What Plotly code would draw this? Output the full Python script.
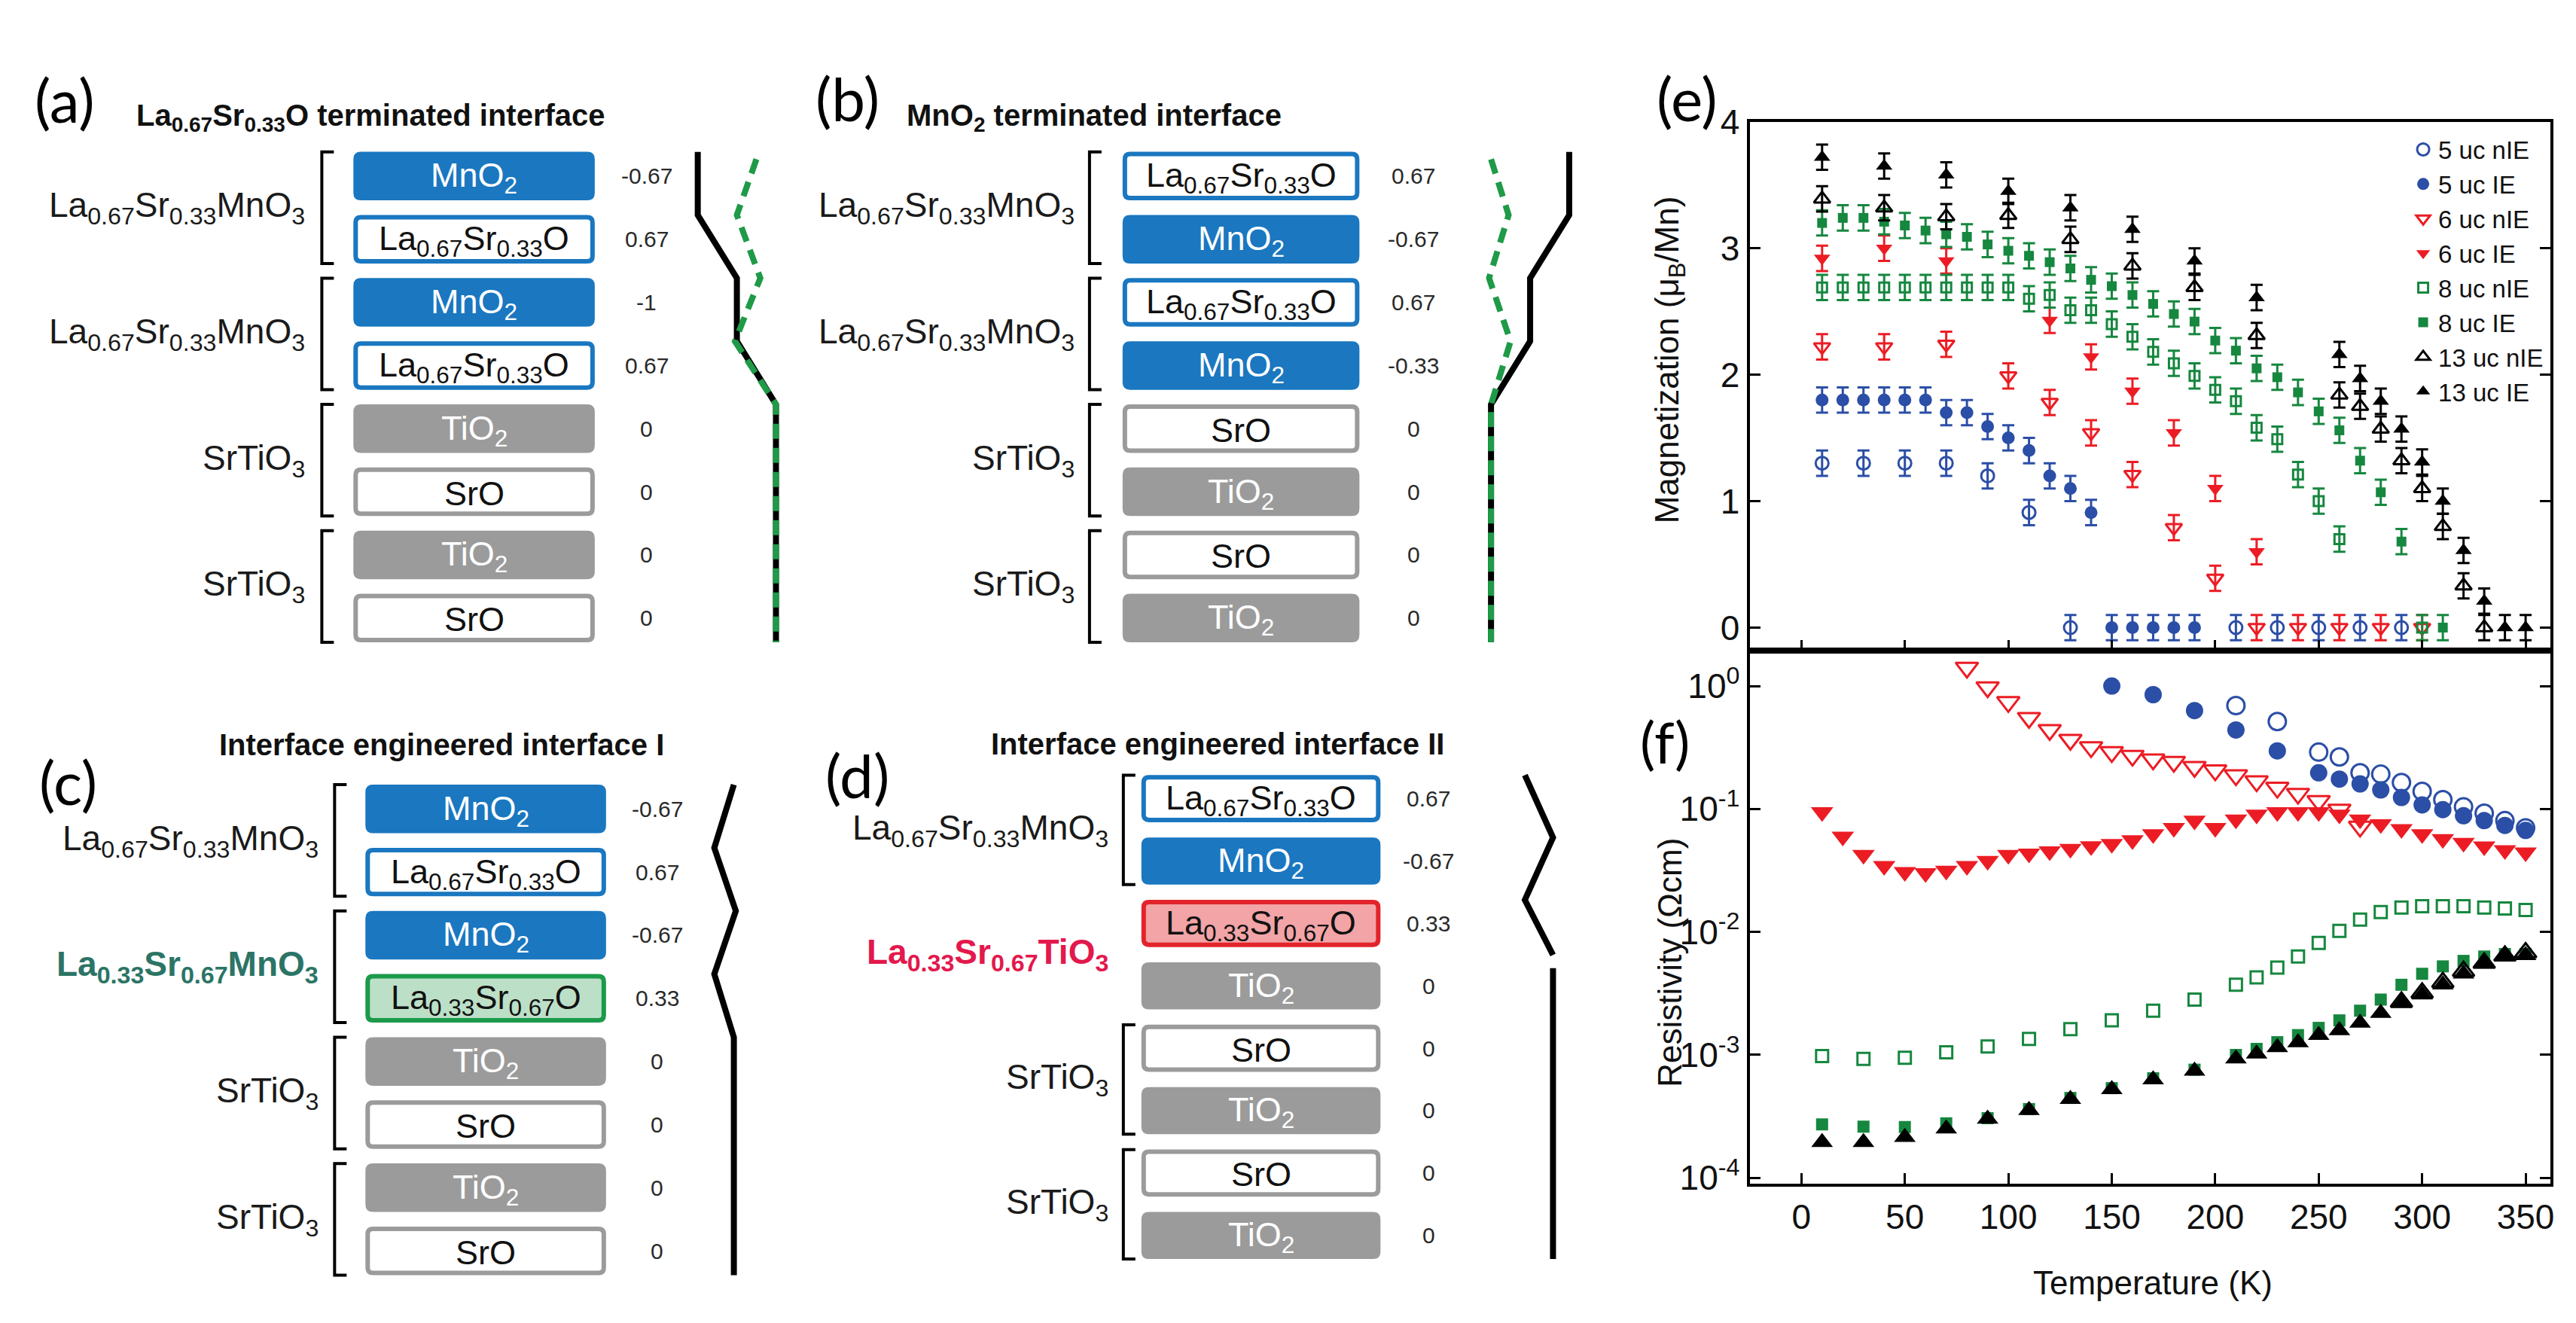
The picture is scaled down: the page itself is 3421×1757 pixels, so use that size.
import plotly.graph_objects as go

W, H = 3421, 1757

# ================= (e) magnetization (mu_B / Mn) =================
T_M_5NIE = [10, 30, 50, 70, 90, 110, 130, 210, 230, 250, 270, 290]
M_5NIE = [1.30, 1.30, 1.30, 1.30, 1.20, 0.91, 0.00, 0.00, 0.00, 0.00, 0.00, 0.00]
T_M_5IE = [10, 20, 30, 40, 50, 60, 70, 80, 90, 100, 110, 120, 130, 140, 150, 160, 170, 180, 190]
M_5IE = [1.80, 1.80, 1.80, 1.80, 1.80, 1.80, 1.70, 1.70, 1.59, 1.50, 1.40, 1.20, 1.10, 0.91,
         0.00, 0.00, 0.00, 0.00, 0.00]
T_M_6NIE = [10, 40, 70, 100, 120, 140, 160, 180, 200, 220, 240, 260, 280, 300]
M_6NIE = [2.22, 2.22, 2.24, 1.99, 1.78, 1.54, 1.21, 0.79, 0.39, 0.00, 0.00, 0.00, 0.00, 0.00]
T_M_6IE = [10, 40, 70, 120, 140, 160, 180, 200, 220]
M_6IE = [2.92, 3.00, 2.90, 2.43, 2.14, 1.87, 1.54, 1.10, 0.60]
T_M_8NIE = [10, 20, 30, 40, 50, 60, 70, 80, 90, 100, 110, 120, 130, 140, 150, 160, 170, 180,
            190, 200, 210, 220, 230, 240, 250, 260, 300]
M_8NIE = [2.69, 2.69, 2.69, 2.69, 2.69, 2.69, 2.69, 2.69, 2.69, 2.69, 2.60, 2.63, 2.51, 2.51,
          2.40, 2.30, 2.18, 2.09, 1.99, 1.88, 1.79, 1.58, 1.49, 1.21, 1.00, 0.70, 0.00]
T_M_8IE = [10, 20, 30, 40, 50, 60, 70, 80, 90, 100, 110, 120, 130, 140, 150, 160, 170, 180,
           190, 200, 210, 220, 230, 240, 250, 260, 270, 280, 290, 310]
M_8IE = [3.20, 3.24, 3.24, 3.21, 3.18, 3.14, 3.11, 3.09, 3.03, 2.98, 2.94, 2.89, 2.84, 2.75,
         2.70, 2.63, 2.56, 2.48, 2.42, 2.27, 2.19, 2.05, 1.98, 1.86, 1.71, 1.56, 1.32, 1.07,
         0.68, 0.00]
T_M_13NIE = [10, 40, 70, 100, 130, 160, 190, 220, 260, 270, 280, 290, 300, 310, 320, 330]
M_13NIE = [3.39, 3.32, 3.25, 3.26, 3.07, 2.86, 2.69, 2.31, 1.84, 1.75, 1.57, 1.32, 1.10, 0.80,
           0.33, 0.00]
T_M_13IE = [10, 40, 70, 100, 130, 160, 190, 220, 260, 270, 280, 290, 300, 310, 320, 330, 340, 350]
M_13IE = [3.72, 3.65, 3.58, 3.45, 3.32, 3.15, 2.90, 2.61, 2.16, 1.97, 1.79, 1.57, 1.31, 1.00,
          0.61, 0.21, 0.00, 0.00]
MAG_ERR = 0.1

# ================= (f) resistivity (Ohm cm) =================
T_R_5NIE = [210, 230, 250, 260, 270, 280, 290, 300, 310, 320, 330, 340, 350]
R_5NIE = [0.693, 0.514, 0.290, 0.265, 0.197, 0.192, 0.164, 0.139, 0.119, 0.104, 0.0923,
          0.0804, 0.0702]
T_R_5IE = [150, 170, 190, 210, 230, 250, 260, 270, 280, 290, 300, 310, 320, 330, 340, 350]
R_5IE = [1.0, 0.851, 0.631, 0.439, 0.297, 0.197, 0.175, 0.160, 0.143, 0.124, 0.108, 0.0989,
         0.0881, 0.0804, 0.0735, 0.0670]
T_R_6NIE = [80, 90, 100, 110, 120, 130, 140, 150, 160, 170, 180, 190, 200, 210, 220, 230,
            240, 250, 260, 270]
R_6NIE = [1.41, 0.977, 0.741, 0.550, 0.439, 0.365, 0.318, 0.290, 0.271, 0.253, 0.242, 0.220,
          0.206, 0.188, 0.168, 0.149, 0.133, 0.116, 0.0989, 0.0718]
T_R_6IE = [10, 20, 30, 40, 50, 60, 70, 80, 90, 100, 110, 120, 130, 140, 150, 160, 170, 180,
           190, 200, 210, 220, 230, 240, 250, 260, 270, 280, 290, 300, 310, 320, 330, 340, 350]
R_6IE = [0.0944, 0.0597, 0.0424, 0.0344, 0.0308, 0.0301, 0.0315, 0.0344, 0.0378, 0.0424,
         0.0434, 0.0454, 0.0475, 0.0498, 0.0520, 0.0557, 0.0625, 0.0701, 0.0804, 0.0701,
         0.0822, 0.0902, 0.0944, 0.0944, 0.0944, 0.0902, 0.0822, 0.0752, 0.0686, 0.0625,
         0.0570, 0.0532, 0.0497, 0.0463, 0.0443]
T_R_8NIE = [10, 30, 50, 70, 90, 110, 130, 150, 170, 190, 210, 220, 230, 240, 250, 260, 270,
            280, 290, 300, 310, 320, 330, 340, 350]
R_8NIE = [9.8e-4, 9.3e-4, 9.5e-4, 1.05e-3, 1.17e-3, 1.35e-3, 1.62e-3, 1.91e-3, 2.29e-3,
          2.82e-3, 3.72e-3, 4.27e-3, 5.13e-3, 6.31e-3, 8.13e-3, 1.02e-2, 1.26e-2, 1.45e-2,
          1.58e-2, 1.62e-2, 1.62e-2, 1.62e-2, 1.58e-2, 1.55e-2, 1.51e-2]
T_R_8IE = [10, 30, 50, 70, 90, 110, 130, 150, 170, 190, 210, 220, 230, 240, 250, 260, 270,
           280, 290, 300, 310, 320, 330, 340, 350]
R_8IE = [2.72e-4, 2.61e-4, 2.59e-4, 2.78e-4, 3.06e-4, 3.63e-4, 4.47e-4, 5.37e-4, 6.46e-4,
         7.59e-4, 1.00e-3, 1.12e-3, 1.27e-3, 1.45e-3, 1.66e-3, 1.91e-3, 2.29e-3, 2.82e-3,
         3.72e-3, 4.57e-3, 5.25e-3, 5.82e-3, 6.31e-3, 6.61e-3, 6.61e-3]
T_R_13NIE = [290, 300, 310, 320, 330, 340, 350]
R_13NIE = [2.7e-3, 3.2e-3, 3.9e-3, 4.8e-3, 5.6e-3, 6.4e-3, 6.8e-3]
T_R_13IE = [10, 30, 50, 70, 90, 110, 130, 150, 170, 190, 210, 220, 230, 240, 250, 260, 270,
            280, 290, 300, 310, 320, 330, 340, 350]
R_13IE = [1.95e-4, 1.95e-4, 2.14e-4, 2.51e-4, 3.02e-4, 3.55e-4, 4.37e-4, 5.25e-4, 6.31e-4,
          7.41e-4, 9.33e-4, 1.02e-3, 1.15e-3, 1.26e-3, 1.45e-3, 1.58e-3, 1.82e-3, 2.19e-3,
          2.63e-3, 3.09e-3, 3.72e-3, 4.57e-3, 5.50e-3, 6.31e-3, 6.46e-3]

SERIES_NAMES = ["5 uc nIE", "5 uc IE", "6 uc nIE", "6 uc IE", "8 uc nIE", "8 uc IE",
                "13 uc nIE", "13 uc IE"]
T_TICKS = [0, 50, 100, 150, 200, 250, 300, 350]
M_TICKS = [0, 1, 2, 3, 4]
R_TICKS = [1, 0.1, 0.01, 0.001, 0.0001]
R_TICKTEXT = ["10<sup>0</sup>", "10<sup>-1</sup>", "10<sup>-2</sup>", "10<sup>-3</sup>",
              "10<sup>-4</sup>"]

# ================= schematic (a)-(d) data =================
LAYERS_A = ["MnO2", "LSO", "MnO2", "LSO", "TiO2", "SrO", "TiO2", "SrO"]
CHARGE_A = ["-0.67", "0.67", "-1", "0.67", "0", "0", "0", "0"]
GROUPS_A = ["LSMO", "LSMO", "STO", "STO"]
LAYERS_B = ["LSO", "MnO2", "LSO", "MnO2", "SrO", "TiO2", "SrO", "TiO2"]
CHARGE_B = ["0.67", "-0.67", "0.67", "-0.33", "0", "0", "0", "0"]
GROUPS_B = ["LSMO", "LSMO", "STO", "STO"]
LAYERS_C = ["MnO2", "LSO", "MnO2", "LSOg", "TiO2", "SrO", "TiO2", "SrO"]
CHARGE_C = ["-0.67", "0.67", "-0.67", "0.33", "0", "0", "0", "0"]
GROUPS_C = ["LSMO", "LSMO2", "STO", "STO"]
LAYERS_D = ["LSO", "MnO2", "LSOr", "TiO2", "SrO", "TiO2", "SrO", "TiO2"]
CHARGE_D = ["0.67", "-0.67", "0.33", "0", "0", "0", "0", "0"]
GROUPS_D = ["LSMO", "LSTO", "STO", "STO"]
# electrostatic potential profiles (arb. units) at layer boundaries
POT_A_BLACK = [0, 0, 1, 1, 2, 2]
POT_A_GREEN = [1.5, 1.0, 1.6, 0.95, 2, 2]
POT_B_BLACK = [2, 2, 1, 1, 0, 0]
POT_B_GREEN = [0, 0.45, -0.05, 0.5, 0, 0]
POT_C_BLACK = [0.5, 0, 0.55, 0, 0.5, 0.5]
POT_D_BLACK_TOP = [0, 0.72, 0, 0.72]
POT_D_BLACK_BOT = [0.72, 0.72]

# ================= styles =================
FONT = "Liberation Sans, Arial, sans-serif"
TAGFONT = "Lato, Open Sans, sans-serif"
C_BLUE, C_RED, C_GREEN, C_BLACK = "#2b4ea6", "#ec1c24", "#16873f", "#000000"
SER_COLORS = [C_BLUE, C_BLUE, C_RED, C_RED, C_GREEN, C_GREEN, C_BLACK, C_BLACK]
SER_SYMBOLS = ["circle-open", "circle", "triangle-down-open", "triangle-down",
               "square-open", "square", "triangle-up-open", "triangle-up"]
SIZE_E = {"circle": 17, "triangle-down": 19, "square": 13, "triangle-up": 19}
SIZE_F = {"circle": 23, "triangle-down": 26, "square": 16, "triangle-up": 25}

BOX_BLUE, BOX_GRAY = "#1a77c0", "#9b9b9b"
LAYER_STYLE = {
    "MnO2": (BOX_BLUE, BOX_BLUE, "MnO<sub>2</sub>", "white"),
    "LSO": ("white", BOX_BLUE, "La<sub>0.67</sub>Sr<sub>0.33</sub>O", "#111"),
    "LSOg": ("#bcdfc7", "#1b9a4a", "La<sub>0.33</sub>Sr<sub>0.67</sub>O", "#111"),
    "LSOr": ("#f2a4a6", "#e3232b", "La<sub>0.33</sub>Sr<sub>0.67</sub>O", "#111"),
    "TiO2": (BOX_GRAY, BOX_GRAY, "TiO<sub>2</sub>", "white"),
    "SrO": ("white", BOX_GRAY, "SrO", "#111"),
}
GROUP_STYLE = {
    "LSMO": ("La<sub>0.67</sub>Sr<sub>0.33</sub>MnO<sub>3</sub>", "#1a1a1a", True),
    "LSMO2": ("<b>La<sub>0.33</sub>Sr<sub>0.67</sub>MnO<sub>3</sub></b>", "#2c7466", True),
    "LSTO": ("<b>La<sub>0.33</sub>Sr<sub>0.67</sub>TiO<sub>3</sub></b>", "#e3184c", False),
    "STO": ("SrTiO<sub>3</sub>", "#1a1a1a", True),
}

# panel geometry (pixels)
PANELS = [
    dict(tag="(a)", tag_xy=(78, 100), title="<b>La<sub>0.67</sub>Sr<sub>0.33</sub>O terminated interface</b>",
         title_xy=(171, 125), title_anchor="left", label_r=400, br_x=420, box=(462, 783), val_x=852,
         prof_x=920, y0=172, pitch=86, h=66, layers=LAYERS_A, charges=CHARGE_A, groups=GROUPS_A,
         black=[POT_A_BLACK], green=POT_A_GREEN),
    dict(tag="(b)", tag_xy=(1119, 98), title="<b>MnO<sub>2</sub> terminated interface</b>",
         title_xy=(1196, 125), title_anchor="left", label_r=1423, br_x=1441, box=(1485, 1800), val_x=1872,
         prof_x=1975, y0=172, pitch=86, h=66, layers=LAYERS_B, charges=CHARGE_B, groups=GROUPS_B,
         black=[POT_B_BLACK], green=POT_B_GREEN),
    dict(tag="(c)", tag_xy=(83, 1030), title="<b>Interface engineered interface I</b>",
         title_xy=(877, 980), title_anchor="right", label_r=418, br_x=437, box=(478, 798), val_x=866,
         prof_x=942, y0=1034, pitch=86, h=66, layers=LAYERS_C, charges=CHARGE_C, groups=GROUPS_C,
         black=[POT_C_BLACK], green=None),
    dict(tag="(d)", tag_xy=(1132, 1021), title="<b>Interface engineered interface II</b>",
         title_xy=(1915, 978), title_anchor="right", label_r=1468, br_x=1486, box=(1510, 1828), val_x=1892,
         prof_x=2020, y0=1021, pitch=85, h=64, layers=LAYERS_D, charges=CHARGE_D, groups=GROUPS_D,
         black=None, green=None),
]
POT_SCALE = 52  # px per potential unit

fig = go.Figure()

# ---------- (e) and (f) traces ----------
E_SETS = [(T_M_5NIE, M_5NIE), (T_M_5IE, M_5IE), (T_M_6NIE, M_6NIE), (T_M_6IE, M_6IE),
          (T_M_8NIE, M_8NIE), (T_M_8IE, M_8IE), (T_M_13NIE, M_13NIE), (T_M_13IE, M_13IE)]
F_SETS = [(T_R_5NIE, R_5NIE), (T_R_5IE, R_5IE), (T_R_6NIE, R_6NIE), (T_R_6IE, R_6IE),
          (T_R_8NIE, R_8NIE), (T_R_8IE, R_8IE), (T_R_13NIE, R_13NIE), (T_R_13IE, R_13IE)]

for name, col, sym, (te, me) in zip(SERIES_NAMES, SER_COLORS, SER_SYMBOLS, E_SETS):
    base = sym.replace("-open", "")
    fig.add_trace(go.Scatter(
        x=te, y=me, mode="markers", name=name, xaxis="x", yaxis="y",
        marker=dict(symbol=sym, size=SIZE_E[base], color=col,
                    line=dict(width=3 if "open" in sym else 0, color=col)),
        error_y=dict(type="constant", value=MAG_ERR, color=col, thickness=3, width=8),
        cliponaxis=False))

for name, col, sym, (tf, rf) in zip(SERIES_NAMES, SER_COLORS, SER_SYMBOLS, F_SETS):
    base = sym.replace("-open", "")
    fig.add_trace(go.Scatter(
        x=tf, y=rf, mode="markers", name=name, xaxis="x2", yaxis="y2", showlegend=False,
        marker=dict(symbol=sym, size=SIZE_F[base], color=col,
                    line=dict(width=3 if "open" in sym else 0, color=col))))

# ---------- schematic ----------
shapes, annotations = [], []


def rrect(x0, y0, x1, y1, r=7):
    return (f"M {x0 + r},{y0} L {x1 - r},{y0} Q {x1},{y0} {x1},{y0 + r} L {x1},{y1 - r} "
            f"Q {x1},{y1} {x1 - r},{y1} L {x0 + r},{y1} Q {x0},{y1} {x0},{y1 - r} "
            f"L {x0},{y0 + r} Q {x0},{y0} {x0 + r},{y0} Z")


def note(x, y, text, size, color="#111", family=FONT, xanchor="center", ref="x3", angle=0):
    if ref == "x3":
        return dict(xref="x3", yref="y3", x=x, y=y, text=text, showarrow=False, textangle=angle,
                    font=dict(family=family, size=size, color=color), xanchor=xanchor,
                    yanchor="middle")
    return dict(xref="paper", yref="paper", x=x / W, y=1 - y / H, text=text, showarrow=False,
                textangle=angle, font=dict(family=family, size=size, color=color),
                xanchor=xanchor, yanchor="middle")


for P in PANELS:
    bx0, bx1 = P["box"]
    tops = [P["y0"] + i * P["pitch"] for i in range(len(P["layers"]))]
    for i, lay in enumerate(P["layers"]):
        fill, line, txt, tc = LAYER_STYLE[lay]
        yt, yb = tops[i], tops[i] + P["h"]
        shapes.append(dict(type="path", xref="x3", yref="y3",
                           path=rrect(bx0 + 3, yt + 3, bx1 - 3, yb - 3),
                           fillcolor=fill, line=dict(color=line, width=6)))
        annotations.append(note((bx0 + bx1) / 2, (yt + yb) / 2 + 2, txt, 45, tc))
        annotations.append(note(P["val_x"], (yt + yb) / 2, P["charges"][i], 30, "#2a2a2a"))
    for g, key in enumerate(P["groups"]):
        txt, col, bracket = GROUP_STYLE[key]
        yt = tops[2 * g]
        yb = tops[2 * g + 1] + P["h"]
        annotations.append(note(P["label_r"], (yt + yb) / 2, txt, 46, col, xanchor="right"))
        if bracket:
            bxp = P["br_x"]
            shapes.append(dict(type="path", xref="x3", yref="y3",
                               path=f"M {bxp + 16},{yt} L {bxp},{yt} L {bxp},{yb} L {bxp + 16},{yb}",
                               line=dict(color="black", width=4)))
    annotations.append(note(P["tag_xy"][0], P["tag_xy"][1], P["tag"], 80, "black", TAGFONT))
    annotations.append(note(P["title_xy"][0], P["title_xy"][1], P["title"], 40, "#111",
                            xanchor=P["title_anchor"]))
    # potential profiles
    nodes_y = tops[:5] + [tops[-1] + P["h"]]
    if P["black"]:
        for pot in P["black"]:
            fig.add_trace(go.Scatter(x=[P["prof_x"] + POT_SCALE * v for v in pot], y=nodes_y,
                                     mode="lines", xaxis="x3", yaxis="y3", showlegend=False,
                                     hoverinfo="skip", line=dict(color="black", width=8)))
    if P["green"]:
        fig.add_trace(go.Scatter(x=[P["prof_x"] + POT_SCALE * v for v in P["green"]],
                                 y=[nodes_y[0] + 10] + nodes_y[1:],
                                 mode="lines", xaxis="x3", yaxis="y3", showlegend=False,
                                 hoverinfo="skip",
                                 line=dict(color="#1f9a48", width=8, dash="20px,12px")))

# panel (d) profile: zig-zag over the top layers, then straight line
PD = PANELS[3]
tops_d = [PD["y0"] + i * PD["pitch"] for i in range(8)]
fig.add_trace(go.Scatter(x=[PD["prof_x"] + POT_SCALE * v for v in POT_D_BLACK_TOP],
                         y=[tops_d[0], tops_d[1], tops_d[2], tops_d[3] - 10],
                         mode="lines", xaxis="x3", yaxis="y3", showlegend=False, hoverinfo="skip",
                         line=dict(color="black", width=8)))
fig.add_trace(go.Scatter(x=[PD["prof_x"] + POT_SCALE * v for v in POT_D_BLACK_BOT],
                         y=[tops_d[3] + 8, tops_d[7] + PD["h"]],
                         mode="lines", xaxis="x3", yaxis="y3", showlegend=False, hoverinfo="skip",
                         line=dict(color="black", width=8)))

# ---------- axis titles / panel tags for (e),(f) ----------
annotations += [
    note(2236, 98, "(e)", 80, "black", TAGFONT),
    note(2206, 975, "(f)", 76, "black", TAGFONT),
    note(2212, 455, "Magnetization (μ<sub>B</sub>/Mn)", 44, ref="paper", angle=-90),
    note(2212, 1276, "Resistivity (Ωcm)", 44, ref="paper", angle=-90),
    note(2855, 1712, "Temperature (K)", 44, ref="paper"),
]

XDOM = [2319 / W, 3384 / W]
AX_COMMON = dict(showline=True, linewidth=4, linecolor="black", ticks="inside", ticklen=14,
                 tickwidth=3, tickcolor="black", showgrid=False, zeroline=False,
                 tickfont=dict(family=FONT, size=46, color="#111"))

fig.update_layout(
    width=W, height=H, margin=dict(l=0, r=0, t=0, b=0),
    paper_bgcolor="white", plot_bgcolor="white",
    shapes=shapes, annotations=annotations,
    xaxis=dict(domain=XDOM, range=[-25, 362], anchor="y", tickvals=T_TICKS, showticklabels=False,
               mirror=True, **AX_COMMON),
    yaxis=dict(domain=[1 - 851 / H, 1 - 131 / H], range=[-0.18, 4], anchor="x", tickvals=M_TICKS,
               mirror="ticks", **AX_COMMON),
    xaxis2=dict(domain=XDOM, range=[-25, 362], anchor="y2", tickvals=T_TICKS, mirror=True, **AX_COMMON),
    yaxis2=dict(domain=[1 - 1578 / H, 1 - 851 / H], type="log", range=[-4.05, 0.29], anchor="x2",
                tickvals=R_TICKS, ticktext=R_TICKTEXT, mirror="ticks", **AX_COMMON),
    xaxis3=dict(domain=[0, 2300 / W], range=[0, 2300], visible=False, anchor="y3"),
    yaxis3=dict(domain=[0, 1], range=[H, 0], visible=False, anchor="x3"),
    legend=dict(x=3380 / W, xanchor="right", y=1 - 140 / H, yanchor="top",
                bgcolor="rgba(0,0,0,0)", font=dict(family=FONT, size=33, color="#111"),
                tracegroupgap=0, itemwidth=30),
    showlegend=True,
)

fig.write_html("out.html")
